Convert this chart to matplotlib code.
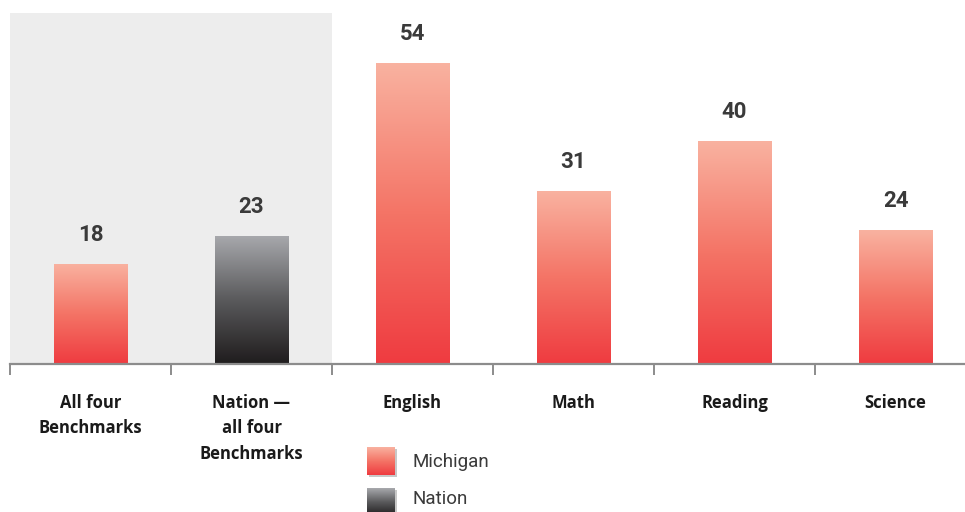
import numpy as np
import matplotlib.pyplot as plt
from matplotlib.colors import LinearSegmentedColormap

categories = ['All four\nBenchmarks', 'Nation —\nall four\nBenchmarks', 'English', 'Math', 'Reading', 'Science']
values = [18, 23, 54, 31, 40, 24]
groups = ['Michigan', 'Nation', 'Michigan', 'Michigan', 'Michigan', 'Michigan']
legend_labels = ['Michigan', 'Nation']

# gradients go bottom -> top
cmaps = {
    'Michigan': LinearSegmentedColormap.from_list('mi', ['#ef3b40', '#f47466', '#f9b2a0']),
    'Nation': LinearSegmentedColormap.from_list('na', ['#1f1c1d', '#5a5a5c', '#a8a9ad']),
}
grad = np.linspace(0, 1, 256).reshape(-1, 1)

W, H = 965, 512
fig = plt.figure(figsize=(W / 100, H / 100), dpi=100)
ax = fig.add_axes([10 / W, 148 / H, 966 / W, 351 / H])

x = np.arange(len(categories))
bars = ax.bar(x, values, width=0.455, color='none', edgecolor='none', zorder=2)
for b, g in zip(bars, groups):
    x0, y0 = b.get_x(), b.get_y()
    im = ax.imshow(grad, extent=[x0, x0 + b.get_width(), y0, y0 + b.get_height()],
                   origin='lower', aspect='auto', cmap=cmaps[g], zorder=2)
    im.set_clip_path(b)

for xi, v in zip(x, values):
    ax.text(xi, v + 5.2, str(v), ha='center', va='center', fontsize=16,
            fontweight='bold', color='#3a3a3a', family='Roboto')

ax.axvspan(-0.5, 1.5, color='#ededed', zorder=0, lw=0)
ax.set_xlim(-0.5, 5.5)
ax.set_ylim(0, 63)

for s in ['top', 'right', 'left']:
    ax.spines[s].set_visible(False)
ax.spines['bottom'].set_color('#8c8c8c')
ax.spines['bottom'].set_linewidth(1.6)
ax.set_yticks([])
ax.set_xticks(x)
ax.set_xticklabels(categories, fontsize=12, fontweight='bold', family='Open Sans',
                   linespacing=1.53, color='#1a1a1a')
ax.tick_params(axis='x', which='major', length=0, pad=21.5)
ax.set_xticks(np.arange(-0.5, 5.5, 1), minor=True)
ax.tick_params(axis='x', which='minor', length=8, width=1.4, color='#8c8c8c', direction='out')

# legend swatches
for i, name in enumerate(legend_labels):
    top = 447 + i * 41
    sh = fig.add_axes([369 / W, (H - top - 30) / H, 28 / W, 28 / H])
    sh.add_patch(plt.Rectangle((0, 0), 1, 1, color='#c8c8c8'))
    sh.axis('off')
    sw = fig.add_axes([367 / W, (H - top - 28) / H, 28 / W, 28 / H])
    sw.imshow(grad, origin='lower', aspect='auto', cmap=cmaps[name], extent=[0, 1, 0, 1])
    sw.axis('off')
    fig.text(412 / W, (H - top - 15 + i * 4) / H, name, fontsize=13.5, family='Roboto',
             color='#3a3a3a', va='center', ha='left')

fig.savefig('out.png', dpi=100)
